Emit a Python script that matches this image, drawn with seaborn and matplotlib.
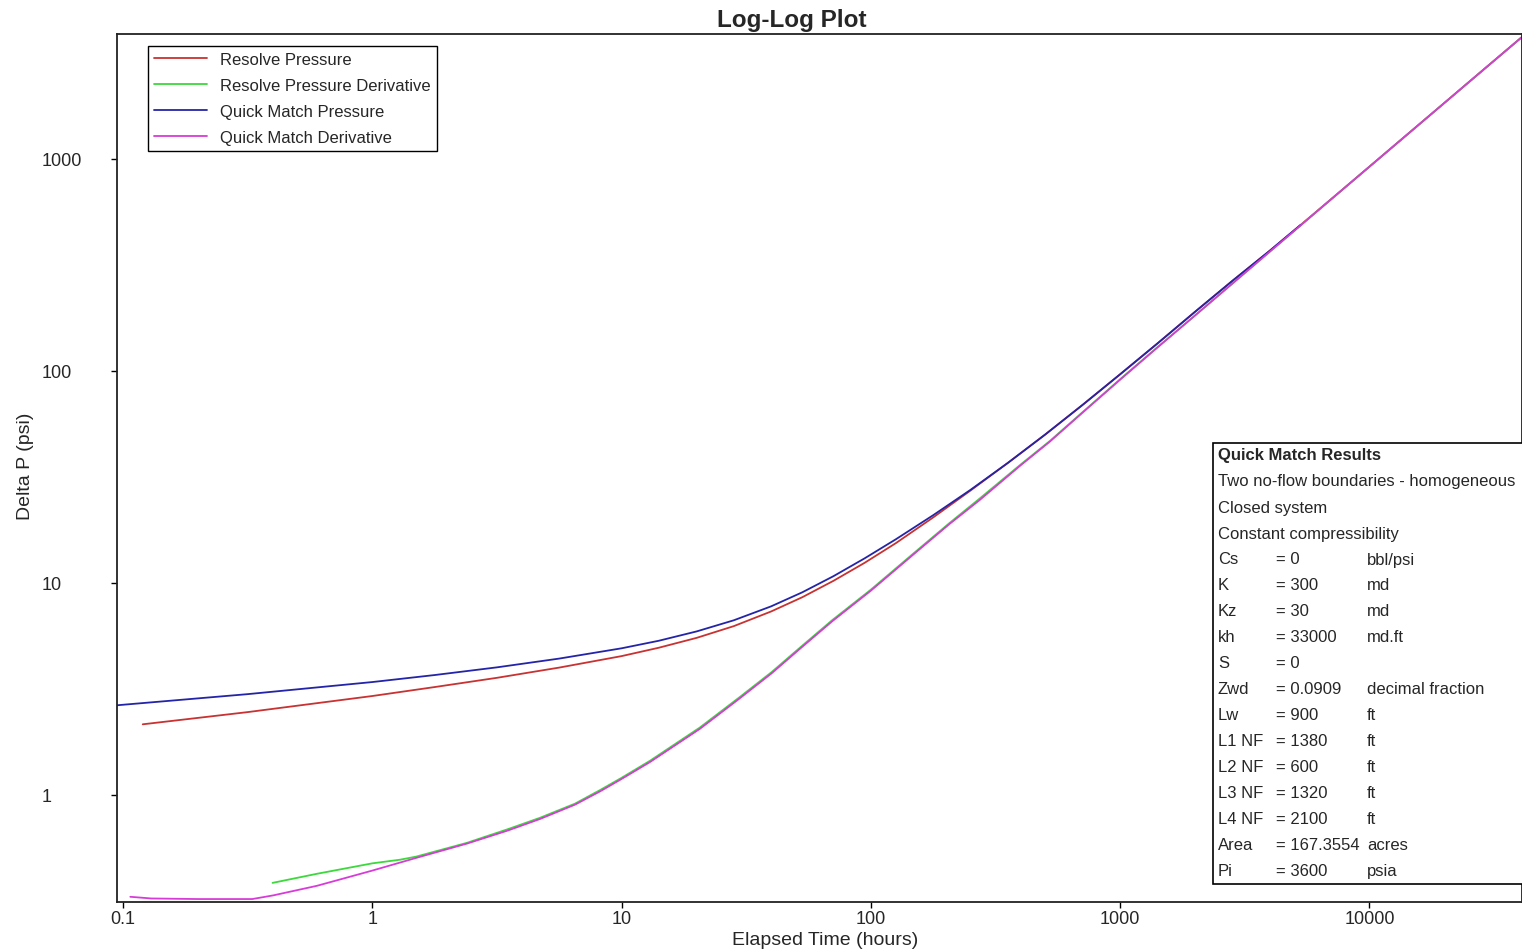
import pandas as pd
import matplotlib
matplotlib.use('Agg')
import matplotlib.pyplot as plt
from matplotlib.patches import Rectangle
from matplotlib.ticker import NullLocator
import seaborn as sns

# Series del gráfico log-log (tiempo en horas, delta P en psi)
t_resolve_p = [0.12, 0.316, 1, 1.78, 3.16, 5.62, 10, 14.1, 20, 28.2, 39.8, 53.1, 70.8, 94.4, 126,
               178, 251, 355, 501, 708, 1000, 1413, 1995, 2818, 3981, 5300, 8000, 12000, 20000,
               30000, 40900]
dp_resolve_p = [2.155, 2.46, 2.93, 3.23, 3.57, 3.99, 4.52, 4.95, 5.51, 6.26, 7.34, 8.57, 10.24,
                12.45, 15.42, 20.4, 27.3, 36.9, 50.2, 69.3, 96.5, 135, 190, 266, 369, 489, 736,
                1104, 1840, 2760, 3760]

t_resolve_d = [0.398, 0.6, 1, 1.29, 1.5, 2.4, 3.5, 4.7, 6.5, 8.2, 10, 13, 20.6, 29.6, 40, 51.8, 70,
               100, 150, 207, 273, 400, 523, 700, 1000, 1400, 2000, 3000, 5000, 8000, 12000,
               20000, 30000, 40900]
dp_resolve_d = [0.385, 0.425, 0.476, 0.495, 0.512, 0.595, 0.69, 0.78, 0.91, 1.055, 1.205, 1.45,
                2.08, 2.88, 3.8, 4.94, 6.68, 9.3, 13.95, 19.2, 25.0, 36.3, 46.8, 63.3, 91.5, 128.5,
                183, 275, 459, 736, 1104, 1840, 2760, 3760]

t_qm_p = [0.0946, 0.316, 1, 1.78, 3.16, 5.62, 10, 14.1, 20, 28.2, 39.8, 53.1, 70.8, 94.4, 126, 178,
          251, 355, 501, 708, 1000, 1413, 1995, 2818, 3981, 5300]
dp_qm_p = [2.65, 2.99, 3.41, 3.68, 4.00, 4.40, 4.92, 5.34, 5.91, 6.67, 7.76, 9.04, 10.77, 13.07,
           16.08, 20.9, 27.5, 36.9, 50.2, 69.3, 96.5, 135, 190, 266, 369, 489]

t_qm_d = [0.107, 0.13, 0.2, 0.33, 0.4, 0.6, 1, 1.5, 2.4, 3.5, 4.7, 6.5, 8.2, 10, 13, 20.6, 29.6, 40,
          51.8, 70, 100, 150, 207, 273, 400, 523, 700, 1000, 1400, 2000, 3000, 5000, 8000, 12000,
          20000, 30000, 40900]
dp_qm_d = [0.331, 0.325, 0.323, 0.323, 0.336, 0.373, 0.44, 0.505, 0.59, 0.68, 0.77, 0.90, 1.04,
           1.19, 1.43, 2.05, 2.84, 3.75, 4.88, 6.6, 9.2, 13.8, 19.0, 24.6, 36, 46.5, 63, 91, 128,
           183, 275, 459, 736, 1104, 1840, 2760, 3760]

series_names = ['Resolve Pressure', 'Resolve Pressure Derivative',
                'Quick Match Pressure', 'Quick Match Derivative']
series_colors = ['#c83232', '#3cd83c', '#2424a8', '#d83cd8']

x_ticks = [0.1, 1, 10, 100, 1000, 10000]
x_tick_labels = ['0.1', '1', '10', '100', '1000', '10000']
y_ticks = [1, 10, 100, 1000]
y_tick_labels = ['1', '10', '100', '1000']

# Cuadro de resultados
results_title = 'Quick Match Results'
results_lines = ['Two no-flow boundaries - homogeneous', 'Closed system', 'Constant compressibility']
param_names = ['Cs', 'K', 'Kz', 'kh', 'S', 'Zwd', 'Lw', 'L1 NF', 'L2 NF', 'L3 NF', 'L4 NF', 'Area', 'Pi']
param_values = ['= 0', '= 300', '= 30', '= 33000', '= 0', '= 0.0909', '= 900', '= 1380', '= 600',
                '= 1320', '= 2100', '= 167.3554', '= 3600']
param_units = ['bbl/psi', 'md', 'md', 'md.ft', '', 'decimal fraction', 'ft', 'ft', 'ft', 'ft', 'ft',
               'acres', 'psia']

# Armar DataFrame largo
frames = []
for name, t, dp in zip(series_names,
                       [t_resolve_p, t_resolve_d, t_qm_p, t_qm_d],
                       [dp_resolve_p, dp_resolve_d, dp_qm_p, dp_qm_d]):
    frames.append(pd.DataFrame({'t': t, 'dp': dp, 'series': name}))
df = pd.concat(frames, ignore_index=True)

sns.set_style('white')
plt.rcParams['font.family'] = ['Liberation Sans', 'DejaVu Sans']

W, H = 1522, 953
fig = plt.figure(figsize=(W / 100, H / 100), dpi=100)
ax = fig.add_axes([117 / W, 50 / H, 1405 / W, 868 / H])

sns.lineplot(data=df, x='t', y='dp', hue='series', hue_order=series_names,
             palette=dict(zip(series_names, series_colors)), estimator=None, sort=False,
             linewidth=1.3, ax=ax)

ax.set_xscale('log')
ax.set_yscale('log')
ax.set_xlim(0.0946, 40930)
ax.set_ylim(0.3128, 3887)
ax.set_xticks(x_ticks)
ax.set_xticklabels(x_tick_labels)
ax.set_yticks(y_ticks)
ax.set_yticklabels(y_tick_labels)
ax.xaxis.set_minor_locator(NullLocator())
ax.yaxis.set_minor_locator(NullLocator())
ax.tick_params(axis='both', direction='out', length=4.5, width=1, color='black',
               labelsize=13, bottom=True, left=True)
ax.tick_params(axis='x', pad=1.5)
ax.tick_params(axis='y', pad=49.5)
for lbl in ax.get_yticklabels():
    lbl.set_horizontalalignment('left')

for side in ['left', 'bottom', 'top', 'right']:
    ax.spines[side].set_color('#222222')
    ax.spines[side].set_linewidth(1.3)

ax.set_xlabel('Elapsed Time (hours)', fontsize=14)
ax.xaxis.set_label_coords((825 - 117) / 1405, (903 - 932) / 868)
ax.set_ylabel('Delta P (psi)', fontsize=14)
ax.yaxis.label.set_va('center')
ax.yaxis.set_label_coords((25 - 117) / 1405, (903 - 466) / 868)
ax.set_title('Log-Log Plot', fontsize=17.5, fontweight='bold', x=(792 - 117) / 1405, pad=6)

handles, labels = ax.get_legend_handles_labels()
leg = ax.legend(handles, labels, loc='upper left', bbox_to_anchor=(0.022, 0.986),
                frameon=True, fancybox=False, edgecolor='black', framealpha=1, fontsize=12,
                handlelength=3.2, handletextpad=0.8, labelspacing=0.665, borderpad=0.35,
                borderaxespad=0)
leg.get_frame().set_linewidth(1.0)

# Cuadro "Quick Match Results"
box = Rectangle((1213 / W, (H - 885) / H), (1535 - 1213) / W, 441 / H,
                transform=fig.transFigure, facecolor='white', edgecolor='black',
                linewidth=1.2, zorder=5)
fig.add_artist(box)
row_h = 26
y0 = 456
fig.text(1218 / W, (H - y0) / H, results_title, fontsize=12, fontweight='bold',
         va='center', ha='left', zorder=6)
for i, line in enumerate(results_lines):
    fig.text(1218 / W, (H - (y0 + row_h * (i + 1))) / H, line, fontsize=12,
             va='center', ha='left', zorder=6)
for j, (n, v, u) in enumerate(zip(param_names, param_values, param_units)):
    yy = (H - (y0 + row_h * (j + 1 + len(results_lines)))) / H
    fig.text(1218 / W, yy, n, fontsize=12, va='center', ha='left', zorder=6)
    fig.text(1276 / W, yy, v, fontsize=12, va='center', ha='left', zorder=6)
    fig.text(1367 / W, yy, u, fontsize=12, va='center', ha='left', zorder=6)

fig.savefig('out.png', dpi=100)
